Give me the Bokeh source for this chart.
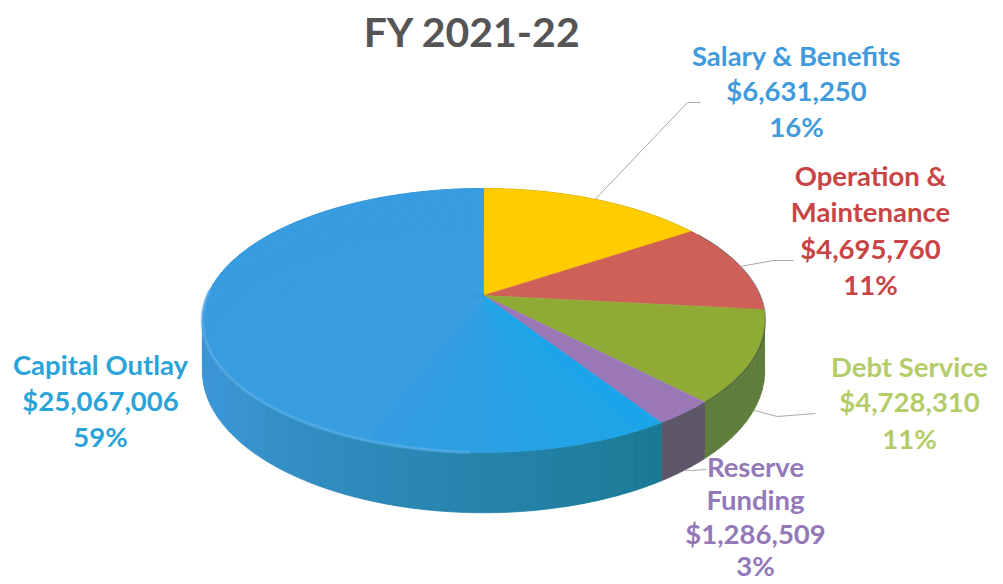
import numpy as np
from bokeh.plotting import figure
from bokeh.models import ColumnDataSource
from bokeh.core.properties import value
from bokeh.embed import file_html
from bokeh.resources import INLINE

# ---- data ----
categories = ["Salary & Benefits", "Operation & Maintenance", "Debt Service", "Reserve Funding", "Capital Outlay"]
amounts = [6631250, 4695760, 4728310, 1286509, 25067006]
percent_labels = ["16%", "11%", "11%", "3%", "59%"]
amount_labels = ["$6,631,250", "$4,695,760", "$4,728,310", "$1,286,509", "$25,067,006"]
title_text = "FY 2021-22"

# ---- style ----
top_colors = ["#FFCC00", "#CE6057", "#8FAB35", "#9A78B8", "#2E9FE4"]
wall_colors = ["#B08C00", "#8E3F38", "#5F7D3C", "#5D5668", "#3A96D4"]
text_colors = ["#3F9BDC", "#C94444", "#B4CC68", "#9479B8", "#2AA3D8"]

# ---- perspective layout (page pixels) ----
CX, CY, A, B, K, WALL = 483.0, 295.0, 276.0, 127.2, 0.189, 49.0
FONT = value("Lato")


def rim(theta):
    u, v = np.sin(theta), np.cos(theta)
    d = 1 + K * v
    return CX + A * u / d, CY - B * v / d


def wall_h(theta):
    return WALL / (1 + K * np.cos(theta))


def hex_mix(c1, c2, t):
    a = [int(c1[i:i + 2], 16) for i in (1, 3, 5)]
    b = [int(c2[i:i + 2], 16) for i in (1, 3, 5)]
    return "#%02x%02x%02x" % tuple(int(round(x + (y - x) * t)) for x, y in zip(a, b))


fractions = np.array(amounts, dtype=float) / sum(amounts)
edges = np.concatenate([[0.0], np.cumsum(fractions)]) * 2 * np.pi

p = figure(width=1003, height=584, x_range=(0, 1003), y_range=(584, 0),
           output_backend="svg", toolbar_location=None, min_border=0,
           background_fill_color="white", border_fill_color="white", outline_line_color=None)
p.axis.visible = False
p.grid.visible = False

# ---- side walls ----
for i in range(5):
    t0, t1 = edges[i], edges[i + 1]
    n = max(2, int((t1 - t0) / np.radians(3)))
    steps = np.linspace(t0, t1, n + 1)
    xs, ys, cols = [], [], []
    for j in range(n):
        th = np.linspace(steps[j], steps[j + 1], 4)
        x, y = rim(th)
        yb = y + wall_h(th)
        xs.append(np.concatenate([x, x[::-1]]))
        ys.append(np.concatenate([y, yb[::-1]]))
        if i == 4:
            f = min(1.0, (steps[j] - t0) / np.radians(90))
            cols.append(hex_mix("#1A7A95", wall_colors[4], f))
        else:
            cols.append(wall_colors[i])
    p.patches(xs, ys, fill_color=cols, line_color=cols, line_width=0.8)

# ---- top surface ----
for i in range(4):
    th = np.linspace(edges[i], edges[i + 1], 60)
    x, y = rim(th)
    p.patch(np.concatenate([[CX], x]), np.concatenate([[CY], y]),
            fill_color=top_colors[i], line_color=top_colors[i], line_width=0.5)

t0, t1 = edges[4], edges[5]
n = 40
steps = np.linspace(t0, t1, n + 1)
xs, ys, cols = [], [], []
for j in range(n):
    th = np.linspace(steps[j], steps[j + 1], 5)
    x, y = rim(th)
    xs.append(np.concatenate([[CX], x]))
    ys.append(np.concatenate([[CY], y]))
    f = min(1.0, (steps[j] - t0) / np.radians(55))
    cols.append(hex_mix("#1BA5E8", "#389CE0", f))
p.patches(xs, ys, fill_color=cols, line_color=cols, line_width=0.8)

# rim highlight on the front of the largest slice
th = np.linspace(edges[4] + np.radians(35), edges[4] + np.radians(125), 60)
x, y = rim(th)
p.line(x, y, line_color="#5DB0E8", line_width=4, line_alpha=0.35)
p.line(x, y, line_color="#5DB0E8", line_width=2, line_alpha=0.5)

# thin dark edge on the right rim
th = np.linspace(edges[1] + np.radians(2), edges[3], 40)
x, y = rim(th)
mask = np.cos(th) < 0.6
p.line(x[mask] + 1, y[mask], line_color="#4A4A40", line_width=1, line_alpha=0.6)

# ---- leader lines ----
mids = (edges[:-1] + edges[1:]) / 2
lead_targets = [[(687, 102), (700, 102)], [(773, 260), (793, 260)],
                [(777, 416), (815, 413)], [(690, 470), (706, 469)]]
lead_on_wall = [False, False, True, True]
for i in range(4):
    ax, ay = rim(mids[i])
    if lead_on_wall[i]:
        ay = ay + wall_h(mids[i])
    lx = [float(ax)] + [q[0] for q in lead_targets[i]]
    ly = [float(ay)] + [q[1] for q in lead_targets[i]]
    p.line(lx, ly, line_color="#A8A8A8", line_width=1)

# ---- texts ----
label_lines = [
    ["Salary & Benefits", amount_labels[0], percent_labels[0]],
    ["Operation &", "Maintenance", amount_labels[1], percent_labels[1]],
    ["Debt Service", amount_labels[2], percent_labels[2]],
    ["Reserve", "Funding", amount_labels[3], percent_labels[3]],
    ["Capital Outlay", amount_labels[4], percent_labels[4]],
]
label_x = [796, 870, 909, 755, 100]
label_y = [[55, 90, 126], [175, 211, 248, 284], [366, 401, 438], [466, 499, 533, 565], [364, 400, 436]]
for i in range(5):
    src = ColumnDataSource(dict(x=[label_x[i]] * len(label_lines[i]), y=label_y[i], t=label_lines[i]))
    p.text(x="x", y="y", text="t", source=src, text_color=text_colors[i], text_font=FONT,
           text_font_style="bold", text_font_size="27.5px", text_align="center", text_baseline="middle")

p.text(x=[472], y=[31], text=[title_text], text_color="#555555", text_font=FONT,
       text_font_style="bold", text_font_size="41px", text_align="center", text_baseline="middle")

open("out.html", "w").write(file_html(p, INLINE))
